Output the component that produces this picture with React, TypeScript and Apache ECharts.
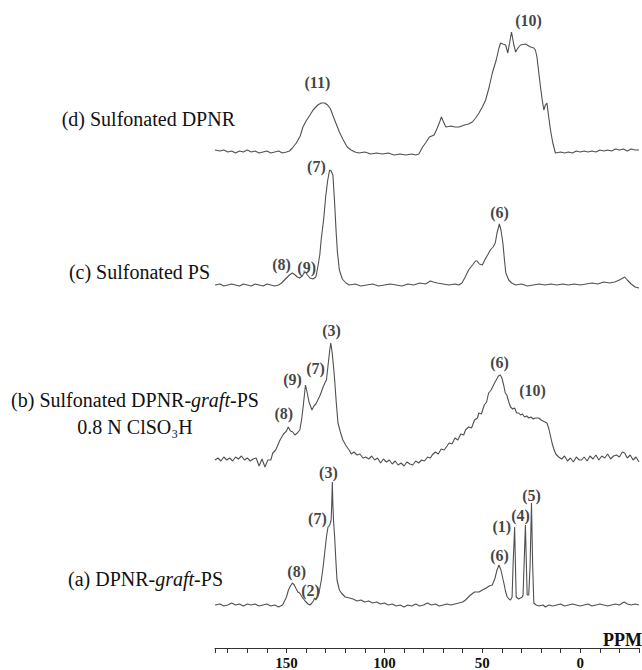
import React, { useEffect, useRef } from "react";
import * as echarts from "echarts";

// ppm / relative intensity pairs
const spectrumD: number[][] = [
  [186.5,2],[184,1],[182,2],[180,0],[178,1],[176,-1],[174,1],[172,0],[170,2],[168,0],[166,1],[164,-1],[162,0],[160,1],[158,-1],[156,0],[154,1],[152,-1],[150,0],[148.5,1],[147,4],[145,9],[143,16],[141.6,25],[140,31],[138,37],[136.4,42],[134,47],[132.3,49],[130.5,49],[129,47],[127.5,43],[126.4,37],[125,30],[123,20],[121,12],[119,5],[117,2],[115,0],[113,-1],[110,0],[107,-2],[104,-1],[101,-2],[98,-1],[95,-3],[92,-2],[89,-3],[86,-2],[84,-3],[82.4,-2],[80.5,5],[79,9],[77,15],[74.6,17],[73,24],[71.8,30],[70.9,35],[69.8,30],[68.6,25],[66,26],[64,25],[61.9,25],[59,27],[57,28],[55.1,30],[53.4,34],[51.7,39],[50,45],[48.3,52],[46.5,65],[44.9,79],[42.9,92],[41.5,104],[40.7,109],[39.5,108],[38.1,107],[37,99],[36,110],[35.1,120],[34,108],[33,100],[31.8,104],[30.5,107],[28,108],[25.4,105],[23.7,104],[22.9,102],[22.1,95],[21.2,80],[20.3,65],[19.4,52],[18.6,42],[17.8,47],[17,49],[16.1,35],[15.2,22],[14,9],[12.7,-1],[10,0],[8,-1],[6,0],[4,-1],[2,1],[0,0],[-2,1],[-4,0],[-6,1],[-8,0],[-10,2],[-12,1],[-14,2],[-16,1],[-18,3],[-20,2],[-22,3],[-24,1],[-26,3],[-28,2],[-30,2]
];

const spectrumC: number[][] = [
  [186.5,0],[184,1],[182,-1],[180,0],[178,1],[176,0],[174,-1],[172,1],[170,0],[168,-1],[166,1],[164,0],[162,-1],[160,1],[158,0],[156,-1],[154,0],[152.5,2],[151,5],[150,7],[148.5,10],[147,12],[145.5,10],[144.5,8],[143.3,7],[142,9],[141,12],[140.2,13],[139.3,10],[138,7],[136.5,6],[135,8],[134,18],[133,30],[132.3,45],[131,66],[130,88],[129,104],[128,115],[127.2,114],[126.3,110],[125.5,85],[124.7,55],[124,33],[123,15],[121.5,6],[119.6,2],[118,0],[115,1],[112,-1],[109,0],[106,1],[103,-1],[100,0],[97,1],[94,0],[91,-1],[88,1],[85,0],[82,2],[79,1],[76.5,4],[75,3],[73,2],[70,1],[67,0],[64,1],[62,0],[60.4,2],[59,7],[57,15],[55,20],[53.5,24],[52.7,24],[51.5,21],[50,20],[48.5,26],[47,31],[45.9,35],[44.5,38],[43.4,42],[42.5,52],[41.3,61],[40.5,55],[39.5,42],[38.7,25],[38,12],[36.5,5],[35,2],[33,0],[30,1],[27,-1],[24,0],[21,1],[18,0],[15,1],[12,0],[9,1],[6,0],[3,1],[0,0],[-3,1],[-6,2],[-9,1],[-12,3],[-15,2],[-17.6,3],[-20,5],[-22.7,8],[-24,5],[-26,1],[-28,-2],[-30,-3]
];

const spectrumB: number[][] = [
  [186.5,2],[185,4],[183.5,1],[182,5],[180.5,2],[179,4],[177.5,1],[176,5],[174.5,3],[173,6],[171.5,2],[170,4],[168.5,1],[167,3],[165.5,4],[164,-4],[162.5,3],[161,-5],[159.5,2],[158,2],[157,9],[155.5,12],[153.3,22],[151.5,28],[150,31],[149.1,35],[148,31],[146.8,30],[145.7,27],[144.5,29],[143.2,32],[142.3,42],[141.5,55],[140.8,68],[140.3,77],[139.5,70],[138.5,60],[137,52],[136,56],[135,58],[134,62],[133,66],[132.2,70],[131.3,75],[130.4,79],[129.6,82],[128.7,98],[127.9,112],[127.4,119],[126.7,110],[126,96],[125.4,82],[124.6,60],[123.7,39],[122.5,30],[121.2,22],[119.5,16],[118,12],[116.9,8],[115.5,10],[114,7],[112.5,8],[111,4],[109.5,5],[108,3],[106.5,6],[105,2],[103.5,4],[102,-1],[100.5,3],[99,0],[97.5,2],[96,-2],[94.5,1],[93,-3],[91.5,-1],[90,-4],[88.5,0],[87,-2],[85.5,-3],[84,1],[82.5,-1],[81,2],[79.5,1],[78,5],[76.5,4],[75.6,7],[74,10],[72.5,8],[71,13],[69.5,12],[68,16],[67,19],[65.5,18],[64,24],[62.5,22],[61,28],[59.5,27],[58.6,32],[57,35],[55.5,34],[54,42],[52.5,44],[51.8,49],[50.5,48],[49,57],[47.8,60],[46.8,69],[45.5,72],[44.5,76],[43.5,80],[42.9,82],[41.8,86],[40.8,87],[40,84],[39,76],[38.3,69],[37.5,67],[36.5,60],[35.6,55],[34.5,53],[33.5,54],[32.5,49],[31.4,49],[30.5,47],[29.5,48],[28.5,45],[27.3,46],[26.3,44],[25.2,45],[24,43],[23,44],[22,44],[21.2,44],[20,42],[19,41],[18,40],[17,39],[16,33],[15.2,26],[14.4,19],[13.5,13],[12.5,8],[11,5],[9.5,3],[8,6],[6.5,1],[5,4],[3.5,0],[2,5],[0.5,2],[-0.7,2],[-2,5],[-3.5,1],[-5,6],[-6.5,3],[-8,7],[-9.5,2],[-11,6],[-12.5,4],[-14,8],[-15.5,3],[-17,6],[-18.5,7],[-20,5],[-21.5,10],[-22.7,9],[-24,4],[-25.5,7],[-27,2],[-28.5,5],[-30,0]
];

const spectrumA: number[][] = [
  [186.5,0],[184,1],[182,-1],[180,0],[178,2],[176,0],[174,1],[172,-1],[170,1],[168,0],[166,1],[164,-1],[162,0],[160,1],[158,-1],[156,0],[154,-2],[152,0],[151,4],[150,8],[149,15],[148,19],[147,22],[146,20],[145,16],[144.2,13],[143.3,12],[142,8],[140.5,4],[139,1],[138,0],[137,2],[136.3,4],[135.6,7],[135,5],[134.2,8],[133.4,12],[132.2,25],[131.3,38],[130.5,52],[129.6,68],[128.8,78],[127.9,80],[127.2,85],[126.9,100],[126.6,123],[126.3,100],[125.9,82],[125.4,68],[124.8,45],[124.2,25],[123,15],[122,12],[120,8],[117.8,7],[116,6],[114,4],[112,5],[110,3],[108,4],[106,2],[104,3],[102,1],[100,2],[98,0],[96,1],[94,-1],[92,0],[90,-2],[88,0],[86,-1],[84,1],[82,-1],[80,0],[78,2],[76,0],[74,1],[72,-1],[70,0],[68,1],[66,0],[64,1],[62,2],[60,3],[58.6,5],[56,10],[54,13],[51.7,13],[50,15],[48,17],[46.5,19],[44.9,20],[43.5,27],[42.5,35],[41.5,40],[40.5,35],[39.7,28],[39,22],[38.2,14],[37.3,8],[36.4,6],[35.6,5],[34.8,8],[34.3,40],[33.5,78],[33.1,40],[32.7,8],[31.5,6],[30.5,7],[29.6,8],[29.2,10],[28.6,45],[28,80],[27.5,40],[27.1,10],[26.3,10],[25.6,40],[24.9,102],[24.3,40],[23.7,2],[22.5,0],[21,-1],[19,0],[17.8,-2],[16,0],[14,-1],[12,0],[10,1],[8,-1],[6,0],[4,1],[2,0],[0,-1],[-2,0],[-4,1],[-6,-1],[-8,0],[-10,1],[-12,0],[-14,-1],[-16,0],[-18,1],[-20,0],[-21.5,2],[-22.5,3],[-24,1],[-26,0],[-28,1],[-30,0]
];

// peak annotations: [text, ppm, level]
const peakLabels: [string, number, number][] = [
  ["(10)", 26.4, 628], ["(11)", 134.2, 566],
  ["(7)", 134.7, 482], ["(6)", 41.2, 436], ["(8)", 152.5, 384], ["(9)", 139.7, 381],
  ["(3)", 127.0, 318], ["(7)", 135.2, 280], ["(9)", 146.9, 269], ["(8)", 151.4, 235], ["(6)", 41.2, 286], ["(10)", 24.4, 258],
  ["(3)", 128.6, 176], ["(7)", 134.2, 130], ["(8)", 144.8, 77], ["(2)", 137.7, 58], ["(6)", 41.2, 93], ["(1)", 40.1, 122], ["(4)", 30.5, 133], ["(5)", 24.9, 153],
];

const tickLabels = [150, 100, 50, 0];
const axisName = "PPM";

const SERIF = "Liberation Serif";

export default function App() {
  const ref = useRef<HTMLDivElement>(null);
  useEffect(() => {
    if (!ref.current) return;
    const chart = echarts.init(ref.current, undefined, { renderer: "svg" });
    const offsets = [
      { data: spectrumD, base: 496 },
      { data: spectrumC, base: 363 },
      { data: spectrumB, base: 186 },
      { data: spectrumA, base: 43 },
    ];
    const lineSeries = offsets.map((s) => ({
      type: "line",
      data: s.data.map((p) => [p[0], p[1] + s.base]),
      symbol: "none",
      showSymbol: false,
      lineStyle: { color: "#505050", width: 1.1 },
      silent: true,
    }));
    const rich = (size: number) => ({
      n: { fontFamily: SERIF, fontSize: size, fill: "#111", color: "#111" },
      i: { fontFamily: SERIF, fontSize: size, fontStyle: "italic", fill: "#111", color: "#111" },
    });
    const txt = (x: number, y: number, text: string, align: string, lh?: number) => ({
      type: "text",
      x,
      y,
      style: {
        text,
        fontFamily: SERIF,
        fontSize: 20,
        fill: "#111",
        align,
        textAlign: align,
        verticalAlign: "middle",
        textVerticalAlign: "middle",
        lineHeight: lh || 22,
        rich: rich(20),
      },
    });
    chart.setOption({
      animation: false,
      grid: { left: 215, right: 1, top: 0, bottom: 22 },
      xAxis: {
        type: "value",
        inverse: true,
        min: -30,
        max: 186.5,
        interval: 10,
        axisLine: { lineStyle: { color: "#333", width: 1 } },
        axisTick: { length: 5, lineStyle: { color: "#333" } },
        splitLine: { show: false },
        axisLabel: {
          margin: 7,
          color: "#111",
          fontFamily: SERIF,
          fontWeight: "bold",
          fontSize: 15,
          formatter: (v: number) => (tickLabels.indexOf(v) >= 0 ? String(v) : ""),
        },
      },
      yAxis: { type: "value", min: 0, max: 648, show: false },
      series: [
        ...lineSeries,
        {
          type: "scatter",
          symbolSize: 0,
          silent: true,
          data: peakLabels.map((l) => ({ name: l[0], value: [l[1], l[2]] })),
          label: {
            show: true,
            position: "inside",
            formatter: "{b}",
            color: "#111",
            fontFamily: SERIF,
            fontWeight: "bold",
            fontSize: 16,
          },
        },
      ],
      graphic: [
        txt(235, 119, "{n|(d) Sulfonated DPNR}", "right"),
        txt(210, 272, "{n|(c) Sulfonated PS}", "right"),
        txt(135, 413.5, "{n|(b) Sulfonated DPNR-}{i|graft}{n|-PS}\n{n|0.8 N ClSO₃H}", "center", 27),
        txt(145.5, 579, "{n|(a) DPNR-}{i|graft}{n|-PS}", "center"),
        {
          type: "text",
          x: 642,
          y: 640,
          style: {
            text: axisName,
            fontFamily: SERIF,
            fontSize: 18,
            fontWeight: "bold",
            fill: "#111",
            align: "right",
            textAlign: "right",
            verticalAlign: "middle",
            textVerticalAlign: "middle",
          },
        },
      ],
    });
    return () => chart.dispose();
  }, []);
  return (
    <div
      ref={ref}
      style={{ position: "fixed", left: 0, top: 0, width: 642, height: 670, background: "#fff" }}
    />
  );
}
